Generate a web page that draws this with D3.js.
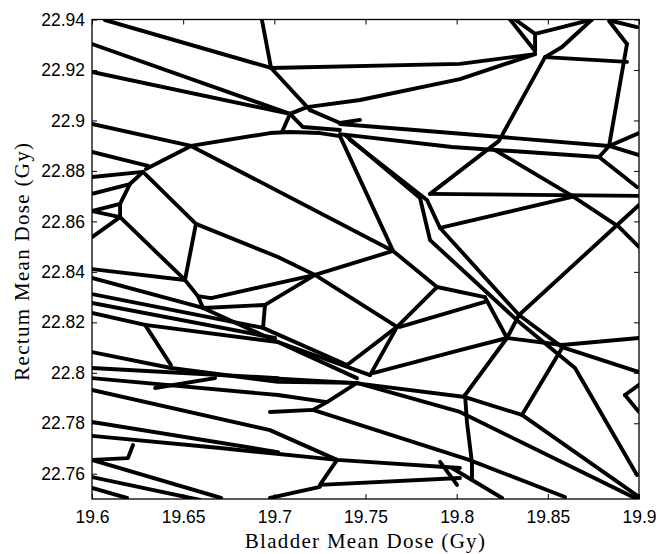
<!DOCTYPE html>
<html><head><meta charset="utf-8">
<script src="https://cdn.jsdelivr.net/npm/d3@7"></script>
<style>body{margin:0;background:#fff}svg{display:block}</style>
</head><body>
<svg id="chart" width="659" height="554"></svg>
<script>
const xDomain = [19.6, 19.9];
const yDomain = [22.75, 22.94];
const xTicks = [19.6, 19.65, 19.7, 19.75, 19.8, 19.85, 19.9];
const xTickLabels = ["19.6", "19.65", "19.7", "19.75", "19.8", "19.85", "19.9"];
const yTicks = [22.76, 22.78, 22.8, 22.82, 22.84, 22.86, 22.88, 22.9, 22.92, 22.94];
const yTickLabels = ["22.76", "22.78", "22.8", "22.82", "22.84", "22.86", "22.88", "22.9", "22.92", "22.94"];
const xTitle = "Bladder Mean Dose (Gy)";
const yTitle = "Rectum Mean Dose (Gy)";

// boundary polylines, [bladder dose, rectum dose]
const edges = [
 [[19.6071,22.9398],[19.6982,22.9208]],
 [[19.6932,22.9398],[19.6982,22.9208]],
 [[19.6,22.9303],[19.7086,22.9026]],
 [[19.6,22.9192],[19.7086,22.9026]],
 [[19.6,22.8986],[19.6543,22.8899],[19.7651,22.8483],[19.7892,22.8340],[19.8155,22.8300]],
 [[19.6296,22.8808],[19.6543,22.8899],[19.6976,22.8950],[19.7086,22.8954],[19.7250,22.8950],[19.7360,22.8938]],
 [[19.7086,22.9026],[19.7179,22.9053],[19.7470,22.9081],[19.8018,22.9164],[19.8430,22.9263]],
 [[19.6982,22.9208],[19.8018,22.9224],[19.8430,22.9263]],
 [[19.6982,22.9208],[19.7196,22.9041]],
 [[19.7086,22.9026],[19.7042,22.8954]],
 [[19.7086,22.9026],[19.7157,22.8974],[19.7360,22.8962]],
 [[19.7196,22.9041],[19.7360,22.8990],[19.7470,22.9002]],
 [[19.7360,22.8986],[19.7974,22.8950],[19.8836,22.8899]],
 [[19.7360,22.8946],[19.7974,22.8895],[19.8781,22.8855],[19.8836,22.8899]],
 [[19.8781,22.8855],[19.8989,22.8736]],
 [[19.8485,22.9251],[19.8232,22.8919],[19.7854,22.8709]],
 [[19.8934,22.9303],[19.8836,22.8899]],
 [[19.8836,22.8899],[19.9,22.8950]],
 [[19.8836,22.8899],[19.9,22.8863]],
 [[19.8485,22.9251],[19.8934,22.9232]],
 [[19.8293,22.94],[19.8430,22.9275]],
 [[19.8320,22.94],[19.8430,22.9343],[19.8578,22.9370],[19.8742,22.94]],
 [[19.8430,22.9343],[19.8430,22.9275]],
 [[19.8742,22.94],[19.8578,22.9291],[19.8485,22.9251]],
 [[19.8852,22.9394],[19.8989,22.9370]],
 [[19.8836,22.9394],[19.8934,22.9303]],
 [[19.8210,22.8883],[19.8633,22.8701],[19.8890,22.8578],[19.9,22.8499]],
 [[19.7854,22.8709],[19.9,22.8701]],
 [[19.7909,22.8574],[19.8633,22.8697]],
 [[19.9,22.8665],[19.8342,22.8229],[19.8276,22.8138],[19.8046,22.7912]],
 [[19.8046,22.7912],[19.8057,22.7801],[19.8084,22.7643],[19.8084,22.7576]],
 [[19.7415,22.8923],[19.7837,22.8685],[19.7909,22.8574],[19.8342,22.8229],[19.8578,22.8102],[19.9,22.8003]],
 [[19.7388,22.8942],[19.7799,22.8693],[19.7854,22.8526],[19.8342,22.8201],[19.8649,22.8019],[19.8989,22.7595]],
 [[19.7360,22.8938],[19.7651,22.8483]],
 [[19.8276,22.8138],[19.8578,22.8110],[19.9,22.8138]],
 [[19.8578,22.8098],[19.8358,22.7833]],
 [[19.6976,22.7979],[19.7432,22.7960],[19.8046,22.7904],[19.8358,22.7833],[19.9,22.7508]],
 [[19.7453,22.7960],[19.8018,22.7845],[19.9,22.7496]],
 [[19.8923,22.7912],[19.9,22.7952]],
 [[19.8923,22.7912],[19.9,22.7845]],
 [[19.6280,22.8796],[19.6570,22.8590],[19.7020,22.8459],[19.7223,22.8388],[19.7673,22.8182],[19.7892,22.8340]],
 [[19.6653,22.8296],[19.7223,22.8388],[19.7651,22.8483]],
 [[19.6949,22.8269],[19.7223,22.8388]],
 [[19.7673,22.8182],[19.7399,22.8031]],
 [[19.7673,22.8182],[19.7525,22.7991]],
 [[19.7689,22.8182],[19.8155,22.8281]],
 [[19.8155,22.8300],[19.8276,22.8138]],
 [[19.7541,22.7999],[19.8018,22.8090],[19.8276,22.8138]],
 [[19.6,22.8875],[19.6307,22.8820]],
 [[19.6,22.8776],[19.6280,22.8796]],
 [[19.6280,22.8796],[19.6208,22.8748],[19.6154,22.8669],[19.6154,22.8617]],
 [[19.6,22.8709],[19.6208,22.8748]],
 [[19.6,22.8641],[19.6154,22.8669]],
 [[19.6,22.8641],[19.6154,22.8617]],
 [[19.6,22.8538],[19.6154,22.8617]],
 [[19.6154,22.8617],[19.6510,22.8368]],
 [[19.6570,22.8590],[19.6510,22.8368]],
 [[19.6510,22.8368],[19.6581,22.8304],[19.6609,22.8257]],
 [[19.6609,22.8257],[19.6949,22.8269],[19.6938,22.8178]],
 [[19.6581,22.8304],[19.6653,22.8296]],
 [[19.6,22.8411],[19.6510,22.8368]],
 [[19.6,22.8376],[19.6609,22.8257],[19.7453,22.7979]],
 [[19.6,22.8312],[19.6938,22.8178],[19.7399,22.8031]],
 [[19.6,22.8277],[19.7004,22.8138]],
 [[19.6,22.8237],[19.6291,22.8190],[19.7020,22.8122],[19.7525,22.7991]],
 [[19.6291,22.8190],[19.6433,22.8031]],
 [[19.6,22.8082],[19.6433,22.8019],[19.7020,22.7964],[19.7432,22.7960]],
 [[19.6,22.8019],[19.7020,22.7979]],
 [[19.6,22.7979],[19.7020,22.7912],[19.7289,22.7884],[19.7453,22.7960]],
 [[19.6,22.7932],[19.6976,22.7773],[19.7344,22.7655],[19.8018,22.7623]],
 [[19.6346,22.7940],[19.6675,22.7979]],
 [[19.6976,22.7845],[19.7212,22.7853],[19.8068,22.7655],[19.8594,22.7508]],
 [[19.7212,22.7853],[19.7289,22.7884]],
 [[19.6,22.7805],[19.7020,22.7686]],
 [[19.6,22.7750],[19.6702,22.7702],[19.7344,22.7655]],
 [[19.6,22.7655],[19.6197,22.7662],[19.6225,22.7714]],
 [[19.6,22.7655],[19.6708,22.7504]],
 [[19.6,22.7587],[19.6592,22.7496]],
 [[19.6,22.7544],[19.6192,22.7504]],
 [[19.7344,22.7655],[19.7250,22.7556],[19.8018,22.7583]],
 [[19.6976,22.7504],[19.7250,22.7548]],
 [[19.7909,22.7647],[19.8002,22.7556]],
 [[19.7974,22.7623],[19.8249,22.7504]]
];

const W = 659, H = 554;
const plot = {left: 92, right: 639, top: 19.5, bottom: 499};
const svg = d3.select("#chart");
const x = d3.scaleLinear().domain(xDomain).range([plot.left, plot.right]);
const y = d3.scaleLinear().domain(yDomain).range([plot.bottom, plot.top]);

svg.append("defs").append("clipPath").attr("id", "clip")
  .append("rect").attr("x", plot.left).attr("y", plot.top)
  .attr("width", plot.right - plot.left).attr("height", plot.bottom - plot.top);

const line = d3.line().x(d => x(d[0])).y(d => y(d[1]));
svg.append("g").attr("clip-path", "url(#clip)")
  .selectAll("path").data(edges).join("path")
  .attr("d", line).attr("fill", "none").attr("stroke", "#000")
  .attr("stroke-width", 3.9).attr("stroke-linejoin", "round").attr("stroke-linecap", "round");

const tickFont = "'Liberation Sans', Arial, sans-serif";
const gx = svg.append("g").attr("transform", `translate(0,${plot.bottom})`)
  .call(d3.axisBottom(x).tickValues(xTicks).tickFormat((d, i) => xTickLabels[i])
    .tickSizeInner(-5).tickSizeOuter(0).tickPadding(12));
const gxt = svg.append("g").attr("transform", `translate(0,${plot.top})`)
  .call(d3.axisTop(x).tickValues(xTicks).tickFormat("").tickSizeInner(-5).tickSizeOuter(0));
const gy = svg.append("g").attr("transform", `translate(${plot.left},0)`)
  .call(d3.axisLeft(y).tickValues(yTicks).tickFormat((d, i) => yTickLabels[i])
    .tickSizeInner(-5).tickSizeOuter(0).tickPadding(7));
const gyr = svg.append("g").attr("transform", `translate(${plot.right},0)`)
  .call(d3.axisRight(y).tickValues(yTicks).tickFormat("").tickSizeInner(-5).tickSizeOuter(0));
[gx, gxt, gy, gyr].forEach(g => {
  g.select(".domain").remove();
  g.selectAll("line").attr("stroke", "#000").attr("stroke-width", 1);
  g.selectAll("text").attr("fill", "#000").style("font-family", tickFont).style("font-size", "17.5px");
});

svg.append("rect").attr("x", plot.left).attr("y", plot.top)
  .attr("width", plot.right - plot.left).attr("height", plot.bottom - plot.top)
  .attr("fill", "none").attr("stroke", "#000").attr("stroke-width", 1.3);

const titleFont = "'Liberation Serif', 'DejaVu Serif', serif";
svg.append("text").attr("x", (plot.left + plot.right) / 2).attr("y", 548)
  .attr("text-anchor", "middle").style("font-family", titleFont).style("font-size", "21px")
  .style("letter-spacing", "1.3px").text(xTitle);
svg.append("text").attr("transform", `translate(29,${(plot.top + plot.bottom) / 2 + 2}) rotate(-90)`)
  .attr("text-anchor", "middle").style("font-family", titleFont).style("font-size", "21px")
  .style("letter-spacing", "1.3px").text(yTitle);
</script>
</body></html>
